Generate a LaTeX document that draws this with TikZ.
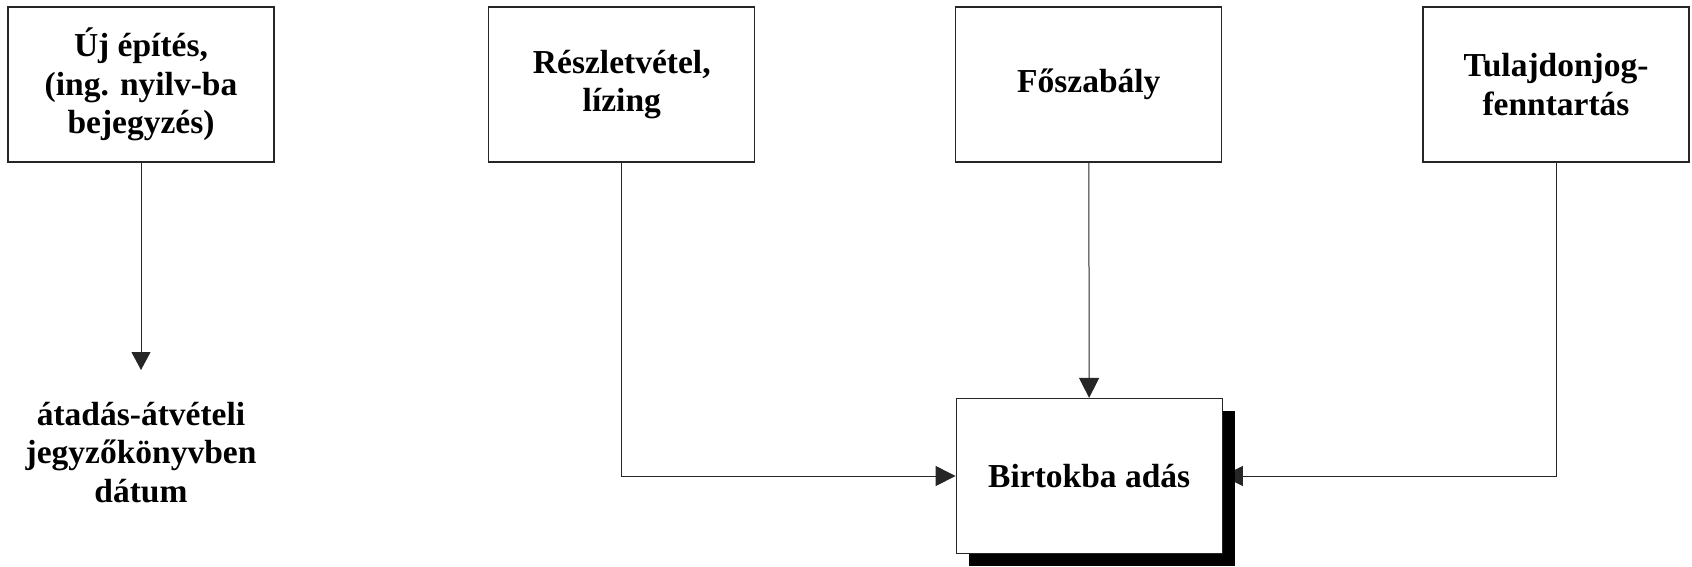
\documentclass[tikz,border=0pt]{standalone}
\usepackage{fontspec}
\setmainfont{Liberation Serif}
\usetikzlibrary{arrows.meta,shadows}
\pgfdeclarelayer{bg}
\pgfsetlayers{bg,main}
\begin{document}
\begin{tikzpicture}[x=1pt,y=-1pt,
  txt/.style={font=\bfseries\fontsize{33.5}{38.5}\selectfont, align=center},
  box/.style={txt, draw=black!85, line width=1.2pt, fill=white, minimum width=266pt, minimum height=155pt, inner sep=0pt},
  shbox/.style={box, drop shadow={shadow xshift=12.5pt, shadow yshift=-12.5pt, fill=black, opacity=1}},
  conn/.style={draw=black!85, line width=1pt, -{Triangle[length=20pt,width=20pt]}},
  conn1/.style={draw=black!85, line width=1pt, -{Triangle[length=18pt,width=19pt]}}
]
\useasboundingbox (0,0) rectangle (1692,566);
\node[box] (b1) at (141,84.5) {Új építés,\\(ing. nyilv-ba\\bejegyzés)};
\node[box] (b2) at (621.8,84.5) {Részletvétel,\\lízing};
\node[box] (b3) at (1088.8,84.5) {Főszabály};
\node[box] (b4) at (1556,84.5) {Tulajdonjog-\\fenntartás};
\node[shbox] (bb) at (1089.2,476) {Birtokba adás};
\node[txt, anchor=north, inner xsep=0pt, inner ysep=32pt] (t) at (141,370) {átadás-átvételi\\jegyzőkönyvben\\dátum};
\begin{pgfonlayer}{bg}
\draw[conn1] (b1) -- (t);
\draw[conn] (b2.south) |- (bb.west);
\draw[conn] (b3) -- (bb);
\draw[conn] (b4.south) |- (bb.east);
\end{pgfonlayer}
\end{tikzpicture}
\end{document}
